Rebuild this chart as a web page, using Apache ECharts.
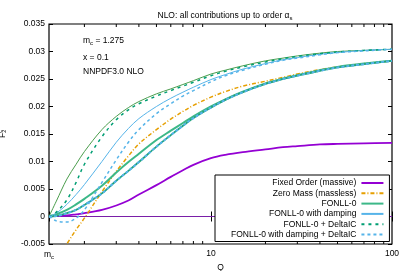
<!DOCTYPE html>
<html>
<head>
<meta charset="utf-8">
<script src="https://cdn.jsdelivr.net/npm/echarts@6/dist/echarts.min.js"></script>
<style>html,body{margin:0;padding:0;background:#fff}#c{width:407px;height:271px}</style>
</head>
<body>
<div id="c"></div>
<script>
// Q values (GeV)
const Q = [1.275, 1.4, 1.6, 1.8, 2, 2.5, 3, 3.5, 4, 5, 6, 7, 8, 10, 12, 15, 20, 25, 30, 40, 50, 70, 100];
// Fixed Order (massive)
const fixedOrder = [0, 0.0001, 0.0002, 0.0004, 0.0006, 0.0012, 0.0020, 0.0029, 0.0040, 0.0057, 0.0072, 0.0084, 0.0094, 0.0106, 0.0112, 0.0117, 0.0122, 0.0126, 0.0128, 0.0131, 0.0132, 0.0133, 0.0134];
// Zero Mass (massless)
const zeroMass = [-0.0105, -0.0081, -0.0050, -0.0024, -0.0003, 0.0045, 0.0082, 0.0110, 0.0132, 0.0158, 0.0177, 0.0191, 0.0202, 0.0217, 0.0227, 0.0237, 0.0246, 0.0253, 0.0259, 0.0267, 0.0272, 0.0278, 0.0283];
// FONLL-0 (upper and lower sets)
const fonll0Upper = [0, 0.0028, 0.0068, 0.0095, 0.0118, 0.0158, 0.0182, 0.0198, 0.0209, 0.0223, 0.0232, 0.0240, 0.0247, 0.0259, 0.0266, 0.0274, 0.0283, 0.0288, 0.0292, 0.0297, 0.0300, 0.0302, 0.0304];
const fonll0Lower = [0, 0.0004, 0.0012, 0.0022, 0.0032, 0.0056, 0.0080, 0.0099, 0.0114, 0.0139, 0.0156, 0.0170, 0.0182, 0.0200, 0.0213, 0.0227, 0.0242, 0.0251, 0.0257, 0.0266, 0.0272, 0.0278, 0.0283];
// FONLL-0 with damping
const dampUpper = [0, 0.0006, 0.0022, 0.0040, 0.0058, 0.0100, 0.0135, 0.0160, 0.0178, 0.0200, 0.0215, 0.0226, 0.0235, 0.0249, 0.0258, 0.0268, 0.0278, 0.0285, 0.0289, 0.0295, 0.0298, 0.0302, 0.0304];
// FONLL-0 + DeltaIC
const deltaUpper = [0, 0.0008, 0.0030, 0.0062, 0.0095, 0.0145, 0.0176, 0.0194, 0.0205, 0.0219, 0.0229, 0.0237, 0.0244, 0.0256, 0.0264, 0.0272, 0.0281, 0.0287, 0.0291, 0.0296, 0.0299, 0.0302, 0.0304];
// FONLL-0 with damping + DeltaIC
const dampDeltaUpper = [0, -0.0008, -0.0010, -0.0003, 0.0012, 0.0062, 0.0103, 0.0135, 0.0158, 0.0187, 0.0205, 0.0219, 0.0229, 0.0245, 0.0256, 0.0266, 0.0277, 0.0284, 0.0288, 0.0294, 0.0298, 0.0301, 0.0304];
const dampDeltaLower = [0, 0.0001, 0.0006, 0.0012, 0.0021, 0.0042, 0.0065, 0.0083, 0.0099, 0.0127, 0.0148, 0.0165, 0.0179, 0.0198, 0.0212, 0.0226, 0.0241, 0.0250, 0.0256, 0.0265, 0.0271, 0.0277, 0.0283];
// axis ticks
const minorXTicks = [2, 3, 4, 5, 6, 7, 8, 9, 20, 30, 40, 50, 60, 70, 80, 90];
const QMIN = 1.275;
const zeroLine = [[QMIN, 0], [100, 0]];
const legendNames = ['Fixed Order (massive)', 'Zero Mass (massless)', 'FONLL-0', 'FONLL-0 with damping', 'FONLL-0 + DeltaIC', 'FONLL-0 with damping + DeltaIC'];

const pairs = arr => Q.map((q, i) => [q, arr[i]]);
const FONT = 'Liberation Sans, Arial, sans-serif';
const FS = 8.5;
const PURPLE = '#9400d3', ORANGE = '#e69f00', GREEN = '#009e73', BLUE = '#56b4e9';

function line(name, data, color, width, type, z) {
  return {
    name, type: 'line', data: pairs(data), smooth: 0.35, showSymbol: false, symbol: 'none',
    xAxisIndex: 0, yAxisIndex: 0, z: z || 2,
    lineStyle: { color, width, type: type || 'solid' }, itemStyle: { color }, emphasis: { disabled: true }
  };
}

const chart = echarts.init(document.getElementById('c'), null, { renderer: 'canvas' });
const yAxisBase = {
  type: 'value', min: -0.005, max: 0.035, interval: 0.005,
  splitLine: { show: false }, axisLine: { show: false },
  axisTick: { show: true, inside: true, length: 4, lineStyle: { color: '#000', width: 1 } }
};
const xAxisBase = {
  type: 'log', logBase: 10, min: QMIN, max: 100,
  splitLine: { show: false }, axisLine: { show: false }, minorTick: { show: false },
  axisTick: { show: true, inside: true, length: 5, lineStyle: { color: '#000', width: 1 } }
};
const subRich = { a: { fontSize: FS, fill: '#000', color: '#000', fontFamily: FONT }, b: { fontSize: 6, fill: '#000', color: '#000', fontFamily: FONT, padding: [5, 0, 0, 0] } };

chart.setOption({
  animation: false,
  backgroundColor: '#fff',
  textStyle: { fontFamily: FONT },
  title: {
    text: '{t|NLO: all contributions up to order α}{s|s}',
    left: 220, top: 5, textAlign: 'center',
    textStyle: { fontWeight: 'normal', rich: { t: { fontSize: FS, fontWeight: 'normal', fontFamily: FONT, color: '#000' }, s: { fontSize: 6, fontWeight: 'normal', fontFamily: FONT, color: '#000', padding: [5, 0, 0, 0] } } }
  },
  grid: { left: 49, right: 15, top: 24, bottom: 27, outerBoundsMode: 'none', containLabel: false, show: true, borderColor: '#000', borderWidth: 1.2, backgroundColor: 'transparent' },
  xAxis: [
    Object.assign({}, xAxisBase, {
      position: 'bottom', name: 'Q', nameLocation: 'middle', nameGap: 19,
      nameTextStyle: { fontSize: FS, color: '#000', fontFamily: FONT },
      axisLabel: {
        show: true, margin: 5, fontSize: FS, color: '#000', fontFamily: FONT, showMinLabel: true, showMaxLabel: true,
        formatter: v => (Math.abs(v - QMIN) < 0.05 ? '' : String(Math.round(v)))
      }
    }),
    Object.assign({}, xAxisBase, { position: 'top', axisLabel: { show: false } })
  ],
  yAxis: [
    Object.assign({}, yAxisBase, {
      position: 'left', name: '{f|F}{s|2}{p|c}', nameLocation: 'middle', nameGap: 41, nameRotate: 90,
      nameTextStyle: { rich: { f: { fontSize: FS, color: '#000', fontFamily: FONT }, s: { fontSize: 5.5, color: '#000', fontFamily: FONT, padding: [4, 0, 0, 0] }, p: { fontSize: 5.5, color: '#000', fontFamily: FONT, padding: [0, 0, 5, -3] } } },
      axisLabel: { show: true, margin: 4, fontSize: FS, color: '#000', fontFamily: FONT, formatter: v => String(Math.round(v * 1000) / 1000) }
    }),
    Object.assign({}, yAxisBase, { position: 'right', axisLabel: { show: false } })
  ],
  legend: {
    data: legendNames, orient: 'vertical', align: 'right', left: 215, top: 175,
    padding: [3, 5, 2, 16], itemGap: 0.3, itemWidth: 22, itemHeight: 8,
    itemStyle: { opacity: 0 },
    backgroundColor: '#fff', borderColor: '#000', borderWidth: 1, borderRadius: 0,
    textStyle: { fontSize: FS, lineHeight: 10, color: '#000', fontFamily: FONT }, selectedMode: false
  },
  graphic: [
    { id: 'ann1', type: 'text', left: 83, top: 36, style: { rich: subRich, text: '{a|m}{b|c}{a| = 1.275}' } },
    { id: 'ann2', type: 'text', left: 83, top: 53, style: { text: 'x = 0.1', fontSize: FS, fill: '#000', fontFamily: FONT } },
    { id: 'ann3', type: 'text', left: 83, top: 67, style: { text: 'NNPDF3.0 NLO', fontSize: FS, fill: '#000', fontFamily: FONT } }
  ],
  series: [
    { name: 'zero', type: 'line', data: zeroLine, symbol: 'none', lineStyle: { color: '#7a1fa8', width: 1 }, z: 1, silent: true },
    {
      name: 'ticks', type: 'custom', data: minorXTicks.map(v => [v]), encode: { x: 0 }, silent: true, clip: false, z: 5,
      renderItem: (params, api) => {
        const x = api.coord([api.value(0), 0])[0];
        const cs = params.coordSys;
        return { type: 'group', children: [
          { type: 'line', shape: { x1: x, y1: cs.y + cs.height, x2: x, y2: cs.y + cs.height - 3 }, style: { stroke: '#000', lineWidth: 1 } },
          { type: 'line', shape: { x1: x, y1: cs.y, x2: x, y2: cs.y + 3 }, style: { stroke: '#000', lineWidth: 1 } }
        ] };
      }
    },
    line('Fixed Order (massive)', fixedOrder, PURPLE, 1.8, 'solid', 3),
    line('Zero Mass (massless)', zeroMass, ORANGE, 1.5, [4, 2, 1, 2], 3),
    line('FONLL-0', fonll0Lower, '#3cb888', 2, 'solid', 3),
    line('FONLL-0', dampDeltaLower, '#1fa27a', 1.8, 'solid', 3),
    line('FONLL-0', fonll0Upper, '#4a9d4c', 1, 'solid', 3),
    line('FONLL-0 with damping', dampUpper, BLUE, 1, 'solid', 3),
    line('FONLL-0 + DeltaIC', deltaUpper, GREEN, 1.5, [3, 4], 3),
    line('FONLL-0 with damping + DeltaIC', dampDeltaUpper, BLUE, 1.5, [3, 3], 3),
    line('FONLL-0 with damping + DeltaIC', dampDeltaLower, BLUE, 2, [3, 2], 3)
  ]
});
// m_c label at the axis minimum, positioned through the axis scale
const mcX = chart.convertToPixel({ xAxisIndex: 0 }, QMIN);
chart.setOption({
  graphic: [
    { id: 'mcLabel', type: 'text', x: mcX, y: 249, style: { rich: subRich, text: '{a|m}{b|c}', align: 'center', verticalAlign: 'top' } }
  ]
});
</script>
</body>
</html>
